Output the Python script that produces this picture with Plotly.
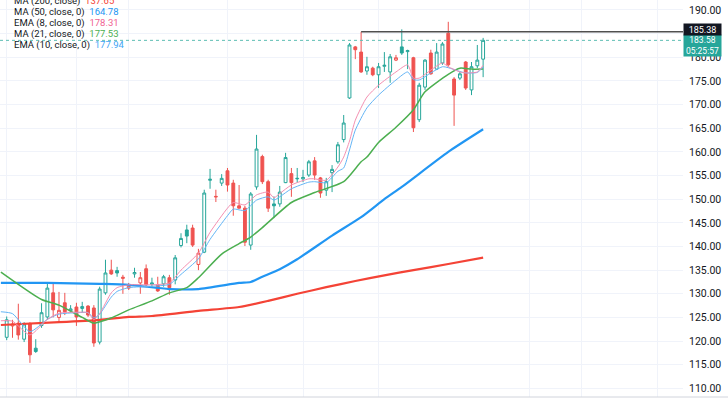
import plotly.graph_objects as go

# ---------------- data ----------------
opens = [120.8,123.2,123.8,120.4,123.6,118.5,123.3,125.1,130.2,125.0,128.1,126.4,127.2,126.9,127.4,127.0,119.8,130.2,135.0,134.9,
         133.5,131.2,134.2,132.3,135.3,132.0,131.9,132.1,133.4,132.9,140.2,143.5,143.9,136.2,138.8,154.0,150.6,153.4,156.0,153.4,
         148.6,148.1,140.3,152.6,159.0,153.7,149.0,149.0,153.5,155.4,154.3,154.3,155.1,158.1,154.5,151.9,155.6,157.9,162.6,171.4,
         182.2,181.1,177.1,177.7,176.3,178.1,176.9,179.4,182.2,181.2,179.9,166.8,173.7,180.9,177.5,178.8,185.1,175.4,175.6,179.0,
         173.1,178.2,179.6]
highs = [125.2,124.5,127.9,124.0,124.0,120.4,128.0,132.3,132.3,130.4,130.2,127.6,128.1,128.3,127.6,127.6,131.5,137.2,137.2,135.7,
         134.0,132.3,135.5,134.6,136.2,133.4,133.6,134.0,134.0,138.2,142.8,144.6,144.6,139.5,152.0,156.4,152.0,155.3,156.6,154.1,
         153.0,148.6,151.5,163.6,159.4,154.1,150.6,152.8,159.8,156.6,156.6,156.2,158.3,158.9,154.7,154.5,157.2,162.1,167.8,183.0,
         182.4,185.38,180.1,178.0,178.8,181.1,180.7,180.5,185.9,181.6,180.1,174.6,179.6,181.6,183.0,183.2,187.5,175.8,176.9,179.2,
         179.0,182.6,184.1]
lows = [120.2,120.7,120.3,119.8,115.4,117.5,122.8,124.5,125.0,124.0,125.5,126.0,123.2,126.0,125.1,118.8,119.3,129.8,134.0,133.6,
        130.0,130.8,133.4,130.0,131.4,131.4,130.4,131.5,129.8,132.0,139.8,140.7,139.9,135.0,138.6,152.2,149.4,152.8,151.6,146.5,
        148.0,140.1,139.3,152.0,153.2,147.3,146.0,148.4,153.4,150.5,153.5,153.6,154.7,154.1,150.3,150.7,151.5,157.5,162.0,171.2,
        179.6,176.7,176.3,176.0,173.5,176.9,174.6,179.2,180.5,177.5,164.2,166.3,173.1,176.3,177.3,178.4,178.0,165.5,175.2,173.1,
        172.0,177.7,175.8]
closes = [124.5,123.6,121.3,123.6,117.1,117.8,126.0,131.2,126.6,126.5,126.2,126.8,125.1,127.3,125.5,119.6,131.0,134.4,134.2,134.4,
          133.3,131.6,134.5,133.4,131.9,132.3,130.6,133.6,131.3,137.6,141.7,142.2,140.3,138.6,151.3,154.2,150.5,154.4,153.0,148.6,
          148.1,140.9,151.1,160.6,153.7,148.1,148.6,151.5,158.8,153.5,154.4,154.6,157.9,155.1,151.3,153.7,156.3,161.5,166.1,182.6,
          181.6,176.9,178.0,176.3,178.0,178.3,180.1,179.9,180.9,181.4,165.1,174.1,179.4,176.5,181.1,182.8,178.4,172.0,176.5,173.5,
          178.0,179.4,183.58]

ma200_idx = [-1, 9, 16, 21, 25, 33, 40, 45, 50, 55, 60, 65, 70, 76, 82]
ma200_val = [123.4, 124.0, 124.5, 125.1, 125.3, 126.4, 127.2, 128.5, 130.0, 131.4, 132.7, 133.9, 135.0, 136.3, 137.65]

ma50_idx = [-1, 7, 16, 21, 28, 33, 40, 42, 44, 47, 50, 56, 61, 65, 68, 76, 82]
ma50_val = [132.3, 132.3, 132.1, 131.9, 131.0, 131.0, 132.3, 132.5, 133.6, 135.2, 137.3, 142.3, 146.2, 150.0, 152.6, 160.0, 164.78]

ma21_idx = [-1, 6, 9, 13, 15, 18, 21, 25, 28, 31, 33, 37, 40, 42, 44, 49, 53, 58, 61, 62, 64, 67, 70, 72, 76, 78, 80, 82]
ma21_val = [134.6, 128.8, 127.6, 125.0, 123.8, 124.9, 126.6, 128.5, 130.2, 131.3, 133.4, 138.4, 140.6, 142.0, 144.0, 149.3,
            151.4, 153.7, 157.9, 158.9, 162.0, 165.2, 168.9, 172.7, 176.4, 177.7, 177.5, 177.53]

ema8_idx = [-1, 1, 4, 7, 9, 12, 14, 15, 16, 18, 19, 21, 25, 28, 30, 33, 35, 38, 39, 41, 43, 45, 46, 47, 49, 52, 53, 55, 57,
            58, 59, 60, 62, 64, 67, 69, 70, 71, 73, 75, 76, 78, 79, 81, 82]
ema8_val = [124.3, 124.2, 121.3, 124.6, 125.9, 126.1, 126.0, 124.5, 125.8, 130.2, 131.3, 131.9, 131.9, 132.3, 135.0, 138.6,
            143.0, 148.1, 149.3, 148.8, 150.9, 151.5, 150.3, 151.2, 153.0, 154.3, 154.3, 154.0, 156.8, 158.9, 162.3, 166.7,
            171.6, 174.1, 176.9, 178.4, 175.6, 175.6, 177.3, 178.8, 178.0, 176.9, 176.7, 176.9, 178.31]

ema10_idx = [-1, 1, 4, 7, 9, 12, 14, 15, 16, 18, 19, 21, 25, 28, 30, 33, 35, 38, 39, 41, 43, 45, 46, 47, 49, 52, 53, 55, 57,
             58, 59, 60, 62, 64, 67, 69, 70, 71, 73, 75, 76, 78, 79, 81, 82]
ema10_val = [126.2, 125.8, 122.0, 124.6, 125.7, 126.0, 126.0, 124.9, 125.7, 129.3, 130.5, 131.3, 131.6, 132.0, 134.1, 137.4,
             141.5, 146.5, 147.9, 147.6, 149.8, 150.5, 149.8, 150.5, 152.2, 153.6, 153.7, 153.5, 155.9, 156.6, 160.4, 164.6,
             169.3, 172.0, 175.2, 176.9, 175.3, 175.2, 176.7, 178.0, 177.8, 177.0, 176.7, 176.8, 177.94]

legend_names = ["MA (200, close)", "MA (50, close, 0)", "EMA (8, close, 0)", "MA (21, close, 0)", "EMA (10, close, 0)"]
legend_values = ["137.65", "164.78", "178.31", "177.53", "177.94"]

price_ticks = [110, 115, 120, 125, 130, 135, 140, 145, 150, 155, 160, 165, 170, 175, 180, 185, 190]
hidden_tick = 185  # covered by the 185.38 price tag in the reference

high_line = 185.38
high_line_start = 61
last_price = 183.58
countdown = "05:25:57"
time_grid_idx = [0, 12, 21, 38, 51, 64, 90, 99, 112]

# ---------------- styles ----------------
TEAL = "#26a69a"
RED = "#ef5350"
C_MA200 = "#f44336"
C_MA50 = "#2196f3"
C_MA21 = "#4caf50"
C_EMA8 = "#f48fb1"
C_EMA10 = "#64b5f6"
FONT = "Roboto"
GRID = "#f0f3fa"

fig = go.Figure()

# hollow-candle grouping (TradingView "hollow candles")
groups = {}
for i, (o, h, l, c) in enumerate(zip(opens, highs, lows, closes)):
    prev = closes[i - 1] if i > 0 else o
    hollow = c > o
    up = c >= prev
    groups.setdefault((hollow, up), []).append(i)

for (hollow, up), ids in groups.items():
    col = TEAL if up else RED
    fill = "#ffffff" if hollow else col
    style = dict(line=dict(color=col, width=1), fillcolor=fill)
    fig.add_trace(go.Candlestick(
        x=ids,
        open=[opens[i] for i in ids], high=[highs[i] for i in ids],
        low=[lows[i] for i in ids], close=[closes[i] for i in ids],
        increasing=style, decreasing=style, whiskerwidth=0,
        hoverinfo="skip", showlegend=False))

for xs, ys, col, w in [(ma200_idx, ma200_val, C_MA200, 2.2), (ma50_idx, ma50_val, C_MA50, 2.2),
                       (ma21_idx, ma21_val, C_MA21, 1.5), (ema10_idx, ema10_val, C_EMA10, 1.0),
                       (ema8_idx, ema8_val, C_EMA8, 1.0)]:
    fig.add_trace(go.Scatter(x=xs, y=ys, mode="lines", line=dict(color=col, width=w, shape="spline", smoothing=0.6),
                             hoverinfo="skip", showlegend=False))

# last price dotted line and high ray
fig.add_shape(type="line", xref="paper", x0=0, x1=1, yref="y", y0=last_price, y1=last_price,
              line=dict(color="#5dbdb3", width=1, dash="dot"))
fig.add_shape(type="line", xref="x", x0=high_line_start, x1=116.4, yref="y", y0=high_line, y1=high_line,
              line=dict(color="#505050", width=1.5))
# bottom border of the pane
fig.add_shape(type="line", xref="paper", x0=0, x1=1.066, yref="paper", y0=0, y1=0,
              line=dict(color="#d1d4dc", width=1))

# price tags on the price scale
fig.add_annotation(xref="paper", x=1.0, xanchor="left", yref="y", y=last_price, yanchor="middle", yshift=-5,
                   text=f"{last_price:.2f}<br>{countdown}", showarrow=False, bgcolor=TEAL, width=37, height=21,
                   font=dict(family=FONT, size=8.5, color="white"), align="center", borderpad=0)
fig.add_annotation(xref="paper", x=1.0, xanchor="left", yref="y", y=high_line, yanchor="middle", yshift=2,
                   text=f"{high_line:.2f}", showarrow=False, bgcolor="#131722", width=37, height=11,
                   font=dict(family=FONT, size=9, color="white"), align="center", borderpad=0)

# indicator legend
legend_cols = [C_MA200, C_MA50, "#f06292", C_MA21, "#42a5f5"]
legend_y = [1, 12.5, 23.5, 34.5, 45]
for name, val, col, yp in zip(legend_names, legend_values, legend_cols, legend_y):
    fig.add_annotation(xref="paper", x=12 / 683, xanchor="left", yref="paper", y=1 - yp / 397, yanchor="middle",
                       text=f"{name}  <span style='color:{col}'>{val}</span>", showarrow=False,
                       font=dict(family=FONT, size=9.5, color="#131722"))

tick_text = ["" if v == hidden_tick else f"{v:.2f}" for v in price_ticks]

fig.update_layout(
    width=728, height=400,
    margin=dict(l=0, r=45, t=0, b=3, autoexpand=False),
    paper_bgcolor="white", plot_bgcolor="white",
    showlegend=False,
    hovermode=False,
    xaxis=dict(range=[-1.153, 116.4], rangeslider=dict(visible=False), showticklabels=False,
               tickmode="array", tickvals=time_grid_idx, showgrid=True, gridcolor=GRID, gridwidth=1,
               zeroline=False, ticks="", showline=False, fixedrange=True),
    yaxis=dict(side="right", range=[108.18, 192.11], tickmode="array", tickvals=price_ticks, ticktext=tick_text,
               showgrid=True, gridcolor=GRID, gridwidth=1, zeroline=False, ticks="", showline=False,
               tickfont=dict(family=FONT, size=10.5, color="#131722"), ticklabelstandoff=5, automargin=False,
               fixedrange=True),
)

fig.write_html("out.html", config={"displayModeBar": False, "staticPlot": True},
               post_script="document.body.style.margin='0';")
